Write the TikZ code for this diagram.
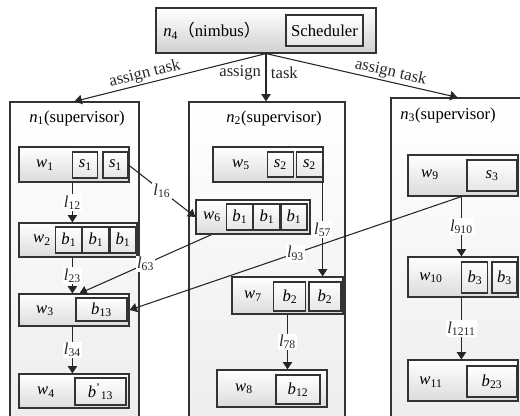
\documentclass[tikz,border=0pt]{standalone}
\usepackage{fontspec}
\setmainfont{Liberation Serif}
\newfontfamily\cjk{Noto Sans CJK SC}
\usetikzlibrary{arrows.meta,positioning,fit,calc}
\newcommand{\vsub}[2]{\textit{#1}\textsubscript{#2}}

\begin{document}
\begin{tikzpicture}[
  x=0.75pt, y=-0.75pt,
  font=\fontsize{12.5}{14}\selectfont,
  host/.style={draw=black!80, line width=0.9pt, top color=white, bottom color=black!7, inner sep=0pt},
  wk/.style={draw=black!80, line width=0.9pt, top color=white, bottom color=black!14, inner sep=0pt},
  ib/.style={draw=black!80, line width=0.8pt, top color=white, bottom color=black!10, inner sep=0pt},
  sq/.style={ib, minimum width=19.5pt, minimum height=19.5pt},
  link/.style={-{Triangle[length=5.5pt,width=7pt]}, line width=0.8pt, black!85},
  lab/.style={fill=white, inner sep=1pt}]
\useasboundingbox (0,0) rectangle (520,416);
% nimbus
\node[host, bottom color=black!18, fit={(156,8) (376,53)}] (n4) {};
\node (n4t) at (212,31) {\vsub{n}{4}{\cjk （}nimbus{\cjk ）}};
\node[ib, minimum width=57.75pt, minimum height=23.25pt] (sch) at (324.5,30.5) {Scheduler};
% supervisors
\node[host, fit={(10,102) (139,422)}] (n1) {};
\node (n1t) at (77,118) {\vsub{n}{1}(supervisor)};
\node[host, fit={(189,102) (345,422)}] (n2) {};
\node (n2t) at (274,118) {\vsub{n}{2}(supervisor)};
\node[host, fit={(391,98) (524,422)}] (n3) {};
\node (n3t) at (448,115) {\vsub{n}{3}(supervisor)};
% n1 workers
\node[wk, fit={(19,147) (129,182)}] (w1) {};
\node (w1t) at (45,165) {\vsub{w}{1}};
\node[sq, minimum width=18.75pt] (s1b) at (115.5,165) {\vsub{s}{1}};
\node[sq, minimum width=18.75pt, left=3pt of s1b] (s1a) {\vsub{s}{1}};
\node[wk, fit={(19,223) (137,257)}] (w2) {};
\node (w2t) at (42,240) {\vsub{w}{2}};
\node[sq] (b1c) at (123,240) {\vsub{b}{1}};
\node[sq, left=0pt of b1c] (b1b) {\vsub{b}{1}};
\node[sq, left=0pt of b1b] (b1a) {\vsub{b}{1}};
\node[wk, fit={(19,294) (129,326)}] (w3) {};
\node (w3t) at (45,311) {\vsub{w}{3}};
\node[ib, minimum width=38.25pt, minimum height=17.25pt] (b13) at (101.5,309.5) {\vsub{b}{13}};
\node[wk, fit={(19,374) (129,408)}] (w4) {};
\node (w4t) at (46,392) {\vsub{w}{4}};
\node[ib, minimum width=38.25pt, minimum height=20.25pt] (b13p) at (100.5,391.5) {\textit{b}\textsuperscript{'}\textsubscript{13}};
% n2 workers
\node[wk, fit={(213,147) (323,182)}] (w5) {};
\node (w5t) at (241,165) {\vsub{w}{5}};
\node[sq, minimum height=18.75pt] (s2b) at (309.5,164.5) {\vsub{s}{2}};
\node[sq, minimum height=18.75pt, left=1.5pt of s2b] (s2a) {\vsub{s}{2}};
\node[wk, fit={(196,200) (310,234)}] (w6) {};
\node (w6t) at (212,217) {\vsub{w}{6}};
\node[sq] (b1f) at (294,217) {\vsub{b}{1}};
\node[sq, left=0pt of b1f] (b1e) {\vsub{b}{1}};
\node[sq, left=0pt of b1e] (b1d) {\vsub{b}{1}};
\node[wk, fit={(232,277) (343,314)}] (w7) {};
\node (w7t) at (253,296) {\vsub{w}{7}};
\node[ib, minimum width=24pt, minimum height=21.75pt] (b2b) at (325,296.5) {\vsub{b}{2}};
\node[ib, minimum width=24pt, minimum height=21.75pt, left=1.5pt of b2b] (b2a) {\vsub{b}{2}};
\node[wk, fit={(217,370) (327,407)}] (w8) {};
\node (w8t) at (244,389) {\vsub{w}{8}};
\node[ib, minimum width=33pt, minimum height=21.75pt] (b12) at (298,389.5) {\vsub{b}{12}};
% n3 workers
\node[wk, fit={(408,155) (518,196)}] (w9) {};
\node (w9t) at (430,175) {\vsub{w}{9}};
\node[ib, minimum width=37.5pt, minimum height=23.25pt] (s3) at (492,175.5) {\vsub{s}{3}};
\node[wk, fit={(408,257) (518,297)}] (w10) {};
\node (w10t) at (431,278) {\vsub{w}{10}};
\node[ib, minimum width=18.75pt, minimum height=23.25pt] (b3b) at (504.5,277.5) {\vsub{b}{3}};
\node[ib, minimum width=19.5pt, minimum height=23.25pt, left=2.25pt of b3b] (b3a) {\vsub{b}{3}};
\node[wk, fit={(408,360) (518,401)}] (w11) {};
\node (w11t) at (431,382) {\vsub{w}{11}};
\node[ib, minimum width=37.5pt, minimum height=23.25pt] (b23) at (492,381.5) {\vsub{b}{23}};
% assign task
\draw[link] (n4.south) -- node[sloped, above, pos=0.62, inner sep=1pt] {assign task} (n1.north);
\draw[link] (n4.south) -- node[left, pos=0.4] {assign} node[right, pos=0.4] {task} (n4.south |- n2.north);
\draw[link] (n4.south) -- node[sloped, above, pos=0.64, inner sep=1pt] {assign task} (n3.north);
% links
\coordinate (c57) at ($(w5.south east)+(-1,0)$);
\draw[link] (w1.south -| s1a.west) -- node[lab] {\vsub{l}{12}} (w2.north -| s1a.west);
\draw[link] (w2.south -| s1a.west) -- node[lab] {\vsub{l}{23}} (w3.north -| s1a.west);
\draw[link] (w3.south -| s1a.west) -- node[lab] {\vsub{l}{34}} (w4.north -| s1a.west);
\draw[link] (s1b.east) -- node[lab] {\vsub{l}{16}} (w6.west);
\draw[link] ($(w6.south west)!0.14!(w6.south east)$) -- node[lab] {\vsub{l}{63}} ($(w3.north west)!0.55!(w3.north east)$);
\draw[link] (c57) -- node[lab] {\vsub{l}{57}} (c57 |- w7.north);
\draw[link] (w7.south) -- node[lab] {\vsub{l}{78}} (w7.south |- w8.north);
\draw[link] (w9.south -| b3a.west) -- node[lab] {\vsub{l}{910}} (w10.north -| b3a.west);
\draw[link] (w10.south -| b3a.west) -- node[lab] {\vsub{l}{1211}} (w11.north -| b3a.west);
\draw[link] (w9.south -| b3a.west) -- node[lab] {\vsub{l}{93}} (w3.east);
\end{tikzpicture}
\end{document}
